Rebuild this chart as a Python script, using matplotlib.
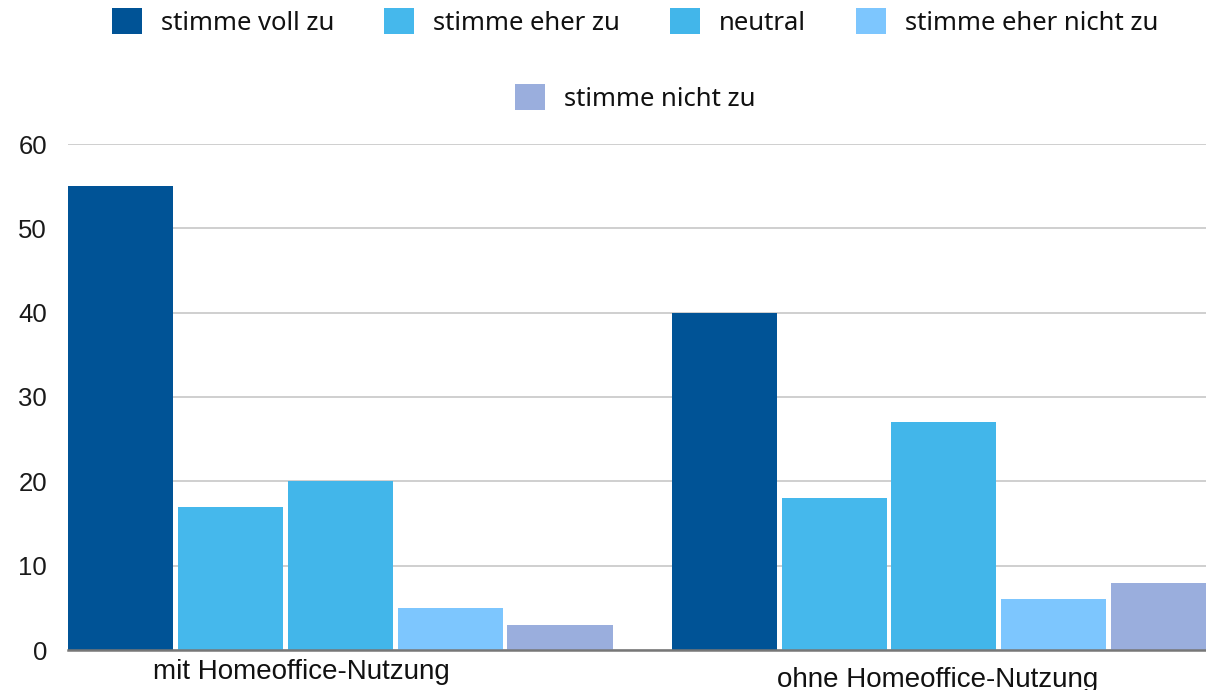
import matplotlib
matplotlib.use("Agg")
import matplotlib.pyplot as plt
from matplotlib.patches import Patch
from matplotlib.transforms import blended_transform_factory
import numpy as np

categories = ["mit Homeoffice-Nutzung", "ohne Homeoffice-Nutzung"]
series_names = ["stimme voll zu", "stimme eher zu", "neutral", "stimme eher nicht zu", "stimme nicht zu"]
series_values = [
    [55, 40],
    [17, 18],
    [20, 27],
    [5, 6],
    [3, 8],
]
colors = ["#005396", "#45B8EC", "#42B6EA", "#7DC6FE", "#9AAEDD"]
y_ticks = [0, 10, 20, 30, 40, 50, 60]

fig = plt.figure(figsize=(12.06, 6.9), dpi=100)
ax = fig.add_axes([68/1206, 1-650/690, 1-68/1206, (650-144)/690])

step = 110/604
width = 105/604
x = np.arange(len(categories))
for i, (name, vals) in enumerate(zip(series_names, series_values)):
    ax.bar(x + (i-2)*step, vals, width=width, color=colors[i], label=name, zorder=3)

ax.set_xlim(-272/604, 1 + 262/604)
ax.set_ylim(0, 60)
ax.set_yticks(y_ticks)
ax.set_yticklabels([str(t) for t in y_ticks], fontfamily="Liberation Sans", fontsize=18.5,
                   color="#1a1a1a")
ax.tick_params(axis="y", length=0, pad=15)
ax.set_xticks([])
for s in ["top", "right", "left"]:
    ax.spines[s].set_visible(False)
ax.spines["bottom"].set_color("#777777")
ax.spines["bottom"].set_linewidth(1.8)
ax.spines["bottom"].set_zorder(4)
ax.yaxis.grid(True, color="#cccccc", linewidth=1.3, zorder=0)
ax.set_axisbelow(True)

tr = blended_transform_factory(ax.transData, ax.transAxes)
label_x = [(301-340)/604, (938-340)/604]
label_y = [-9/506, -17/506]
for lx, ly, lab in zip(label_x, label_y, categories):
    ax.text(lx, ly, lab, transform=tr, ha="center", va="top",
            fontfamily="Liberation Sans", fontsize=20, color="#111111")

fs = 18.5
fpx = fs * 100 / 72
handles = [Patch(facecolor=c, edgecolor="none") for c in colors]
leg_kw = dict(frameon=False, handlelength=30/fpx, handleheight=30/fpx, handletextpad=19/fpx,
              columnspacing=50/fpx, prop={"family": "Noto Sans", "size": fs}, borderaxespad=0,
              borderpad=0)
leg1 = fig.legend(handles[:4], series_names[:4], ncol=4, loc="center",
                  bbox_to_anchor=(635/1206, 1-22/690), **leg_kw)
leg2 = fig.legend(handles[4:], series_names[4:], ncol=1, loc="center",
                  bbox_to_anchor=(635/1206, 1-98/690), **leg_kw)
for leg in (leg1, leg2):
    for t in leg.get_texts():
        t.set_color("#111111")

fig.savefig("out.png", dpi=100)
